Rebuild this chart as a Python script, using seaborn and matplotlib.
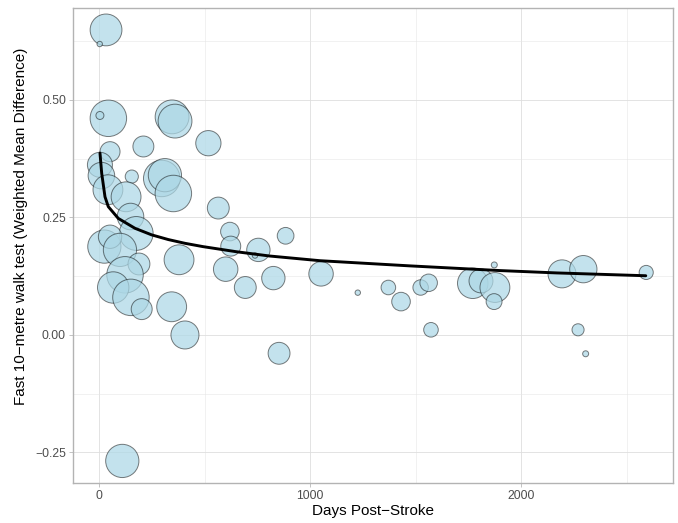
import matplotlib
matplotlib.use("Agg")
import matplotlib.pyplot as plt
from matplotlib.ticker import FixedLocator
import numpy as np
import pandas as pd
import seaborn as sns

# ---- data ----
days = [32, 2, 43, 3, 345, 359, 51, 209, 517, 3, 10, 154, 296, 311, 351, 41, 127,
        148, 175, 24, 51, 98, 188, 122, 66, 150, 201, 378, 343, 406, 109, 564, 619,
        623, 754, 738, 883, 599, 692, 825, 852, 1051, 1225, 1370, 1430, 1523, 1561,
        1572, 1770, 1809, 1875, 1871, 1872, 2193, 2294, 2269, 2305, 2592]
wmd = [0.649, 0.619, 0.461, 0.467, 0.464, 0.455, 0.390, 0.401, 0.408, 0.362, 0.339,
       0.337, 0.333, 0.340, 0.301, 0.309, 0.294, 0.252, 0.216, 0.188, 0.209, 0.181,
       0.151, 0.128, 0.101, 0.080, 0.055, 0.160, 0.060, 0.000, -0.268, 0.270, 0.220,
       0.189, 0.181, 0.169, 0.211, 0.140, 0.101, 0.121, -0.039, 0.130, 0.090, 0.101,
       0.071, 0.101, 0.111, 0.011, 0.110, 0.115, 0.101, 0.071, 0.149, 0.130, 0.140,
       0.011, -0.040, 0.133]
weight = [76, 2.2, 100, 4.8, 86, 86, 30, 33, 48, 47, 53, 13, 100, 83, 100, 67, 67,
          53, 86, 83, 41, 83, 36, 100, 74, 100, 33, 67, 67, 59, 83, 36, 26, 30, 41,
          2.2, 21, 45, 36, 41, 36, 45, 2.2, 16, 26, 18, 23, 16, 70, 43, 67, 19, 2.7,
          59, 56, 11, 2.7, 15]

# fitted curve
fit_days = [3.3, 11.4, 27, 42.7, 90, 169, 248, 327, 406, 491, 651, 807, 1046,
            1472, 1899, 2168, 2590]
fit_wmd = [0.387, 0.344, 0.294, 0.273, 0.248, 0.227, 0.213, 0.203, 0.195, 0.188,
           0.177, 0.168, 0.158, 0.147, 0.137, 0.132, 0.126]

x_ticks = [0, 1000, 2000]
x_minor = [500, 1500, 2500]
y_ticks = [-0.25, 0.00, 0.25, 0.50]
y_minor = [-0.125, 0.125, 0.375, 0.625]
y_ticklabels = ["\u22120.25", "0.00", "0.25", "0.50"]

df = pd.DataFrame({"days": days, "wmd": wmd, "weight": weight})
fit = pd.DataFrame({"days": fit_days, "wmd": fit_wmd})

sns.set_theme(style="white")
plt.rcParams["font.family"] = ["Liberation Sans", "DejaVu Sans"]

fig = plt.figure(figsize=(6.78, 5.23), dpi=100)
ax = fig.add_axes([0.10723, 0.07553, 0.88540, 0.90860])

sns.scatterplot(data=df, x="days", y="wmd", size="weight", sizes=(0, 690),
                size_norm=(0, 100), color="#ADD8E6", edgecolor="black",
                linewidth=0.7, legend=False, ax=ax, zorder=3)
pts = ax.collections[0]
pts.set_alpha(None)
pts.set_facecolor((0.678, 0.847, 0.902, 0.72))
pts.set_edgecolor((0.0, 0.0, 0.0, 0.5))

sns.lineplot(data=fit, x="days", y="wmd", color="black", linewidth=2.1,
             ax=ax, zorder=4, sort=True)

ax.set_xlim(-126, 2719)
ax.set_ylim(-0.316, 0.695)

ax.xaxis.set_major_locator(FixedLocator(x_ticks))
ax.xaxis.set_minor_locator(FixedLocator(x_minor))
ax.yaxis.set_major_locator(FixedLocator(y_ticks))
ax.yaxis.set_minor_locator(FixedLocator(y_minor))
ax.set_xticklabels([str(t) for t in x_ticks])
ax.set_yticklabels(y_ticklabels)

ax.grid(which="major", color="#DEDEDE", linewidth=0.6)
ax.grid(which="minor", color="#E6E6E6", linewidth=0.4)
ax.set_axisbelow(True)

for sp in ax.spines.values():
    sp.set_color("#B3B3B3")
    sp.set_linewidth(1.0)

ax.tick_params(which="major", length=2.7, width=0.55, color="#B3B3B3",
               labelsize=8.8, labelcolor="#4D4D4D", pad=2.2,
               bottom=True, left=True)
ax.tick_params(which="minor", length=0)

ax.set_xlabel("Days Post\u2212Stroke", fontsize=11, color="black")
ax.set_ylabel("Fast 10\u2212metre walk test (Weighted Mean Difference)",
              fontsize=11, color="black")
ax.xaxis.label.set_va("center")
ax.yaxis.label.set_va("center")
ax.xaxis.set_label_coords(0.5, -0.0572)
ax.yaxis.set_label_coords(-0.0861, 0.542)

fig.savefig("out.png", dpi=100, facecolor="white")
